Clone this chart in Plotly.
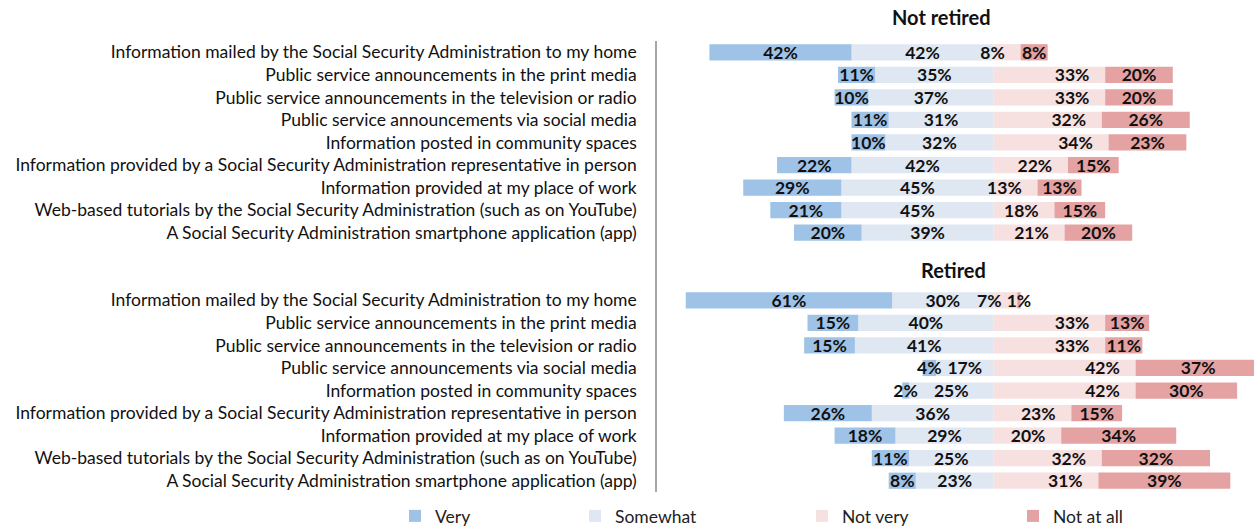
import plotly.graph_objects as go

categories = [
    "Information mailed by the Social Security Administration to my home",
    "Public service announcements in the print media",
    "Public service announcements in the television or radio",
    "Public service announcements via social media",
    "Information posted in community spaces",
    "Information provided by a Social Security Administration representative in person",
    "Information provided at my place of work",
    "Web-based tutorials by the Social Security Administration (such as on YouTube)",
    "A Social Security Administration smartphone application (app)",
]

groups = ["Not retired", "Retired"]

nr_very = [42, 11, 10, 11, 10, 22, 29, 21, 20]
nr_somewhat = [42, 35, 37, 31, 32, 42, 45, 45, 39]
nr_notvery = [8, 33, 33, 32, 34, 22, 13, 18, 21]
nr_notatall = [8, 20, 20, 26, 23, 15, 13, 15, 20]

r_very = [61, 15, 15, 4, 2, 26, 18, 11, 8]
r_somewhat = [30, 40, 41, 17, 25, 36, 29, 25, 23]
r_notvery = [7, 33, 33, 42, 42, 23, 20, 32, 31]
r_notatall = [1, 13, 11, 37, 30, 15, 34, 32, 39]

series_names = ["Very", "Somewhat", "Not very", "Not at all"]
colors = {"Very": "#9fc2e7", "Somewhat": "#dfe7f2", "Not very": "#f6e0e0", "Not at all": "#e4a2a2"}

n = len(categories)
gap = 2
rows_nr = list(range(n))
rows_r = [n + gap + i for i in range(n)]
y_all = rows_nr + rows_r

data = {
    "Very": nr_very + r_very,
    "Somewhat": nr_somewhat + r_somewhat,
    "Not very": nr_notvery + r_notvery,
    "Not at all": nr_notatall + r_notatall,
}
sign = {"Very": -1, "Somewhat": -1, "Not very": 1, "Not at all": 1}
anchor = {"Very": "middle", "Somewhat": "middle", "Not very": "end", "Not at all": "middle"}
# "Not very" labels sit a little inside the outer end of their segment
suffix = {"Very": "", "Somewhat": "", "Not very": "\u00a0\u00a0\u00a0", "Not at all": ""}

W, H = 1254, 527
ML, MR, MT, MB = 657, 0, 41, 35
legend_x = {"Very": 395, "Somewhat": 575, "Not very": 802, "Not at all": 1013}
legend_ids = {"Very": "legend", "Somewhat": "legend2", "Not very": "legend3", "Not at all": "legend4"}

FONT = "Lato, Calibri, sans-serif"
FS = 17.5

fig = go.Figure()
# stacking order from the centre outwards
for name in ["Somewhat", "Very", "Not very", "Not at all"]:
    vals = data[name]
    fig.add_trace(go.Bar(
        name=name,
        y=y_all,
        x=[sign[name] * v for v in vals],
        orientation="h",
        width=0.72,
        marker=dict(color=colors[name], line=dict(width=0)),
        text=[f"{v}%{suffix[name]}" for v in vals],
        textposition="inside",
        insidetextanchor=anchor[name],
        textangle=0,
        constraintext="none",
        textfont=dict(family=FONT, size=FS, color="#111111", weight="bold"),
        legend=legend_ids[name],
        hoverinfo="skip",
    ))

layout_legends = {}
for name in series_names:
    layout_legends[legend_ids[name]] = dict(
        xref="container", yref="container",
        x=legend_x[name] / W, y=1 - 516 / H,
        xanchor="left", yanchor="middle",
        orientation="h",
        font=dict(family=FONT, size=FS, color="#222222"),
        bgcolor="rgba(0,0,0,0)",
        itemwidth=30,
    )

fig.update_layout(
    width=W, height=H,
    barmode="relative",
    plot_bgcolor="white", paper_bgcolor="white",
    margin=dict(l=ML, r=MR, t=MT, b=MB),
    showlegend=True,
    font=dict(family=FONT, size=FS, color="#111111"),
    **layout_legends,
)

fig.update_xaxes(range=[-99.5, 77], visible=False, showgrid=False, zeroline=False)
fig.update_yaxes(
    range=[len(y_all) + gap - 0.5, -0.5],
    tickvals=y_all,
    ticktext=categories + categories,
    showgrid=False, zeroline=False,
    showline=True, linecolor="#a6a6a6", linewidth=1.5,
    ticks="", ticklabelstandoff=15,
    tickfont=dict(family=FONT, size=FS, color="#111111"),
)

plot_h = H - MT - MB
plot_w = W - ML - MR
title_pos = [(941, 17), (953, 270)]
for g, (px, py) in zip(groups, title_pos):
    fig.add_annotation(
        text=f"<b>{g}</b>", xref="paper", yref="paper",
        x=(px - ML) / plot_w, y=(H - MB - py) / plot_h,
        showarrow=False, xanchor="center", yanchor="middle",
        font=dict(family=FONT, size=20, color="#111111"),
    )

fig.write_html("out.html")
